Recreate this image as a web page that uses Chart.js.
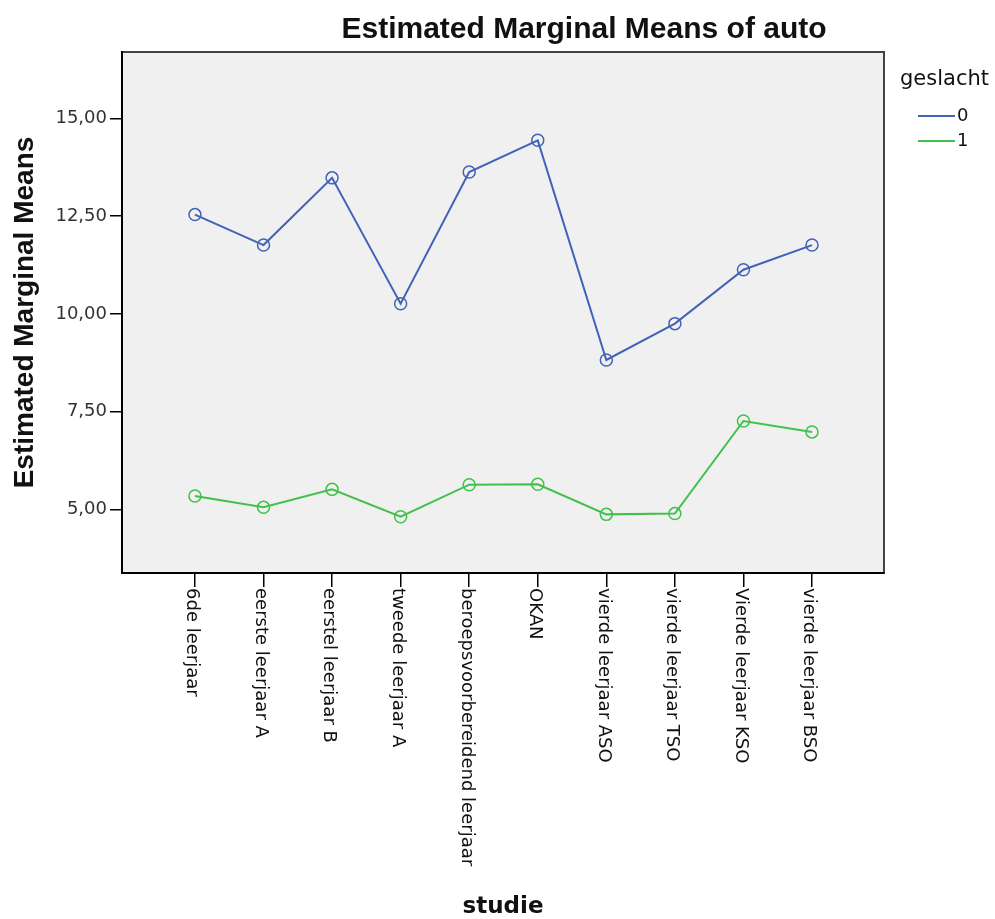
<!DOCTYPE html>
<html>
<head>
<meta charset="utf-8">
<script src="https://cdn.jsdelivr.net/npm/chart.js@4.4.1/dist/chart.umd.min.js"></script>
<style>
    html, body { margin: 0; padding: 0; background: #ffffff; }
    #wrap { width: 995px; height: 919px; }
</style>
</head>
<body>
<div id="wrap"><canvas id="emmChart" width="995" height="919"></canvas></div>
<script>
// -------- Data --------
const studieLabels = [
    '6de leerjaar',
    'eerste leerjaar A',
    'eerstel leerjaar B',
    'tweede leerjaar A',
    'beroepsvoorbereidend leerjaar',
    'OKAN',
    'vierde leerjaar ASO',
    'vierde leerjaar TSO',
    'Vierde leerjaar KSO',
    'vierde leerjaar BSO'
];

const geslacht0 = [12.54, 11.76, 13.48, 10.26, 13.63, 14.44, 8.82, 9.75, 11.13, 11.76];
const geslacht1 = [5.34, 5.05, 5.51, 4.81, 5.63, 5.64, 4.87, 4.89, 7.26, 6.98];

const seriesNames = ['0', '1'];
const yTickValues = [5, 7.5, 10, 12.5, 15];

const chartTitle = 'Estimated Marginal Means of auto';
const yTitle = 'Estimated Marginal Means';
const xTitle = 'studie';
const legendTitle = 'geslacht';


// -------- Styles --------
const blue = '#4262b8';
const green = '#41c04c';
const plotBg = '#f0f0f0';


// -------- Helpers --------
function toPoints(values) {
    return values.map((v, i) => ({ x: i, y: v }));
}

function makeDataset(label, values, color) {
    return {
        label: label,
        data: toPoints(values),
        borderColor: color,
        backgroundColor: 'rgba(0,0,0,0)',
        borderWidth: 2,
        tension: 0,
        pointStyle: 'circle',
        pointRadius: 6,
        pointBorderWidth: 1.5,
        pointBorderColor: color,
        pointBackgroundColor: 'rgba(0,0,0,0)'
    };
}


// -------- Plugins --------
const plotArea = {
    id: 'plotArea',
    beforeDraw(chart) {
        const { ctx, chartArea: a } = chart;
        ctx.save();
        ctx.fillStyle = plotBg;
        ctx.fillRect(a.left, a.top, a.right - a.left, a.bottom - a.top);
        ctx.strokeStyle = '#444';
        ctx.lineWidth = 2;
        ctx.strokeRect(a.left, a.top, a.right - a.left, a.bottom - a.top);
        ctx.restore();
    }
};

const textLayer = {
    id: 'textLayer',
    afterDraw(chart) {
        const { ctx, chartArea: a } = chart;
        const xScale = chart.scales.x;

        ctx.save();
        ctx.fillStyle = '#111';

        // category labels, rotated clockwise
        ctx.font = '18px "DejaVu Sans"';
        ctx.textAlign = 'left';
        ctx.textBaseline = 'middle';
        studieLabels.forEach((label, i) => {
            const px = xScale.getPixelForValue(i);
            ctx.save();
            ctx.translate(px, a.bottom + 15);
            ctx.rotate(Math.PI / 2);
            ctx.fillText(label, 0, 3);
            ctx.restore();
        });

        // main title
        ctx.font = 'bold 30px "Liberation Sans"';
        ctx.textAlign = 'center';
        ctx.textBaseline = 'alphabetic';
        ctx.fillText(chartTitle, 584, 38);

        // axis titles
        ctx.font = 'bold 23px "DejaVu Sans"';
        ctx.textBaseline = 'middle';
        ctx.fillText(xTitle, (a.left + a.right) / 2, 907);

        ctx.save();
        ctx.translate(25, (a.top + a.bottom) / 2);
        ctx.rotate(-Math.PI / 2);
        ctx.font = 'bold 28px "Liberation Sans"';
        ctx.fillText(yTitle, 0, 0);
        ctx.restore();

        // legend
        ctx.textAlign = 'left';
        ctx.font = '21px "DejaVu Sans"';
        ctx.textBaseline = 'alphabetic';
        ctx.fillText(legendTitle, 900, 85);

        ctx.font = '18px "DejaVu Sans"';
        ctx.textBaseline = 'middle';
        chart.data.datasets.forEach((ds, i) => {
            const y = 116 + i * 25;
            ctx.strokeStyle = ds.borderColor;
            ctx.lineWidth = 2;
            ctx.beginPath();
            ctx.moveTo(918, y);
            ctx.lineTo(955, y);
            ctx.stroke();
            ctx.fillText(ds.label, 957, y);
        });

        ctx.restore();
    }
};


// -------- Chart --------
const ctx = document.getElementById('emmChart').getContext('2d');

const chartInstance = new Chart(ctx, {

    type: 'line',

    data: {
        datasets: [
            makeDataset(seriesNames[0], geslacht0, blue),
            makeDataset(seriesNames[1], geslacht1, green)
        ]
    },

    options: {
        responsive: false,
        animation: false,
        devicePixelRatio: 1,
        layout: {
            padding: { top: 52, right: 111, left: 0, bottom: 0 }
        },
        plugins: {
            legend: { display: false },
            title: { display: false },
            tooltip: { enabled: false }
        },
        scales: {
            x: {
                type: 'linear',
                min: -1.064,
                max: 10.05,
                afterBuildTicks: (scale) => {
                    scale.ticks = studieLabels.map((l, i) => ({ value: i }));
                },
                afterFit: (scale) => {
                    scale.height = 346;
                },
                ticks: { display: false },
                grid: {
                    drawOnChartArea: false,
                    drawTicks: true,
                    tickLength: 14,
                    color: '#000',
                    lineWidth: 1.5
                },
                border: { color: '#000', width: 2 }
            },
            y: {
                min: 3.37,
                max: 16.70,
                afterBuildTicks: (scale) => {
                    scale.ticks = yTickValues.map(v => ({ value: v }));
                },
                afterFit: (scale) => {
                    scale.width = 122;
                },
                ticks: {
                    callback: (v) => Number(v).toFixed(2).replace('.', ','),
                    font: { family: 'DejaVu Sans', size: 18 },
                    color: '#333',
                    padding: 3
                },
                grid: {
                    drawOnChartArea: false,
                    drawTicks: true,
                    tickLength: 12,
                    color: '#000',
                    lineWidth: 1.5
                },
                border: { color: '#000', width: 2 }
            }
        }
    },

    plugins: [plotArea, textLayer]

});
</script>
</body>
</html>
